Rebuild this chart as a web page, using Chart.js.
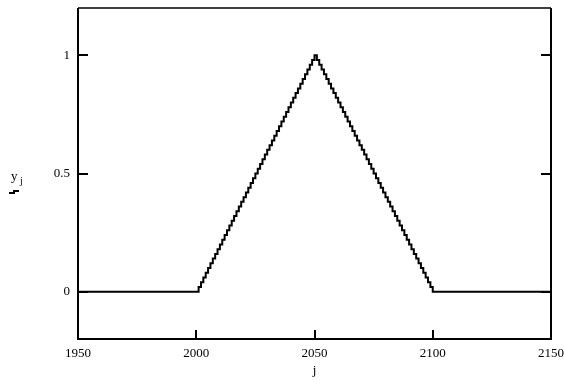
<!DOCTYPE html>
<html>
<head>
<meta charset="utf-8" />
<title>y_j triangle</title>
<script src="https://cdn.jsdelivr.net/npm/chart.js"></script>
<style>
  body { margin: 0; background: #fff; }
  canvas { display: block; }
</style>
</head>
<body>
<canvas id="chart" width="564" height="384"></canvas>
<script>
// j values: flat ends plus every integer in the ramp
const jValues = [
  1950,
  2000, 2001, 2002, 2003, 2004, 2005, 2006, 2007, 2008, 2009,
  2010, 2011, 2012, 2013, 2014, 2015, 2016, 2017, 2018, 2019,
  2020, 2021, 2022, 2023, 2024, 2025, 2026, 2027, 2028, 2029,
  2030, 2031, 2032, 2033, 2034, 2035, 2036, 2037, 2038, 2039,
  2040, 2041, 2042, 2043, 2044, 2045, 2046, 2047, 2048, 2049,
  2050,
  2051, 2052, 2053, 2054, 2055, 2056, 2057, 2058, 2059, 2060,
  2061, 2062, 2063, 2064, 2065, 2066, 2067, 2068, 2069, 2070,
  2071, 2072, 2073, 2074, 2075, 2076, 2077, 2078, 2079, 2080,
  2081, 2082, 2083, 2084, 2085, 2086, 2087, 2088, 2089, 2090,
  2091, 2092, 2093, 2094, 2095, 2096, 2097, 2098, 2099, 2100,
  2150
];
const yValues = [
  0,
  0, 0.02, 0.04, 0.06, 0.08, 0.10, 0.12, 0.14, 0.16, 0.18,
  0.20, 0.22, 0.24, 0.26, 0.28, 0.30, 0.32, 0.34, 0.36, 0.38,
  0.40, 0.42, 0.44, 0.46, 0.48, 0.50, 0.52, 0.54, 0.56, 0.58,
  0.60, 0.62, 0.64, 0.66, 0.68, 0.70, 0.72, 0.74, 0.76, 0.78,
  0.80, 0.82, 0.84, 0.86, 0.88, 0.90, 0.92, 0.94, 0.96, 0.98,
  1.00,
  0.98, 0.96, 0.94, 0.92, 0.90, 0.88, 0.86, 0.84, 0.82, 0.80,
  0.78, 0.76, 0.74, 0.72, 0.70, 0.68, 0.66, 0.64, 0.62, 0.60,
  0.58, 0.56, 0.54, 0.52, 0.50, 0.48, 0.46, 0.44, 0.42, 0.40,
  0.38, 0.36, 0.34, 0.32, 0.30, 0.28, 0.26, 0.24, 0.22, 0.20,
  0.18, 0.16, 0.14, 0.12, 0.10, 0.08, 0.06, 0.04, 0.02, 0,
  0
];
const xTicks = [1950, 2000, 2050, 2100, 2150];
const yTicks = [0, 0.5, 1];

const serif = '"Liberation Serif", "DejaVu Serif", serif';

// frame, inward tick marks and axis titles (Mathcad look)
const framePlugin = {
  id: 'frame',
  afterDraw(chart) {
    const ctx = chart.ctx;
    const a = chart.chartArea;
    const xs = chart.scales.x, ys = chart.scales.y;
    ctx.save();
    ctx.strokeStyle = '#000';
    ctx.lineWidth = 2;
    ctx.beginPath();
    ctx.moveTo(a.left, a.top);
    ctx.lineTo(a.left, a.bottom);
    ctx.lineTo(a.right, a.bottom);
    ctx.lineTo(a.right, a.top);
    ctx.stroke();
    ctx.lineWidth = 1.5;
    ctx.beginPath();
    ctx.moveTo(a.left, a.top);
    ctx.lineTo(a.right, a.top);
    ctx.stroke();

    ctx.lineWidth = 2;
    ctx.beginPath();
    yTicks.forEach(v => {
      const py = Math.round(ys.getPixelForValue(v));
      ctx.moveTo(a.left, py); ctx.lineTo(a.left + 10, py);
      ctx.moveTo(a.right, py); ctx.lineTo(a.right - 10, py);
    });
    xTicks.slice(1, -1).forEach(v => {
      const px = Math.round(xs.getPixelForValue(v));
      ctx.moveTo(px, a.bottom); ctx.lineTo(px, a.bottom - 9);
    });
    ctx.stroke();

    ctx.fillStyle = '#000';
    ctx.font = '13px ' + serif;
    ctx.textAlign = 'center';
    ctx.textBaseline = 'middle';
    ctx.fillText('j', (a.left + a.right) / 2, 371);
    ctx.textAlign = 'left';
    ctx.fillText('y', 11, 177);
    ctx.font = '10px ' + serif;
    ctx.fillText('j', 20, 181);
    // little legend line sample under the label
    ctx.lineWidth = 2;
    ctx.beginPath();
    ctx.moveTo(9, 193); ctx.lineTo(14, 193); ctx.lineTo(14, 191); ctx.lineTo(19, 191);
    ctx.stroke();
    ctx.restore();
  }
};

new Chart(document.getElementById('chart'), {
  type: 'line',
  data: {
    datasets: [{
      data: jValues.map((j, i) => ({ x: j, y: yValues[i] })),
      borderColor: '#000',
      borderWidth: 2,
      stepped: true,
      pointRadius: 0,
      fill: false
    }]
  },
  options: {
    responsive: false,
    animation: false,
    layout: { padding: { top: 8, right: 13, left: 0, bottom: 0 } },
    plugins: { legend: { display: false }, tooltip: { enabled: false } },
    scales: {
      x: {
        type: 'linear',
        min: 1950,
        max: 2150,
        afterBuildTicks: s => { s.ticks = xTicks.map(v => ({ value: v })); },
        afterFit: s => { s.height = 45; s.paddingLeft = 0; s.paddingRight = 0; },
        grid: { display: false, drawTicks: false },
        border: { display: false },
        ticks: { color: '#000', padding: 7, maxRotation: 0, callback: v => String(v), font: { family: serif, size: 13 } }
      },
      y: {
        min: -0.2,
        max: 1.2,
        afterBuildTicks: s => { s.ticks = yTicks.map(v => ({ value: v })); },
        afterFit: s => { s.width = 78; s.paddingTop = 0; s.paddingBottom = 0; },
        grid: { display: false, drawTicks: false },
        border: { display: false },
        ticks: { color: '#000', padding: 8, callback: v => String(v), font: { family: serif, size: 13 } }
      }
    }
  },
  plugins: [framePlugin]
});
</script>
</body>
</html>
